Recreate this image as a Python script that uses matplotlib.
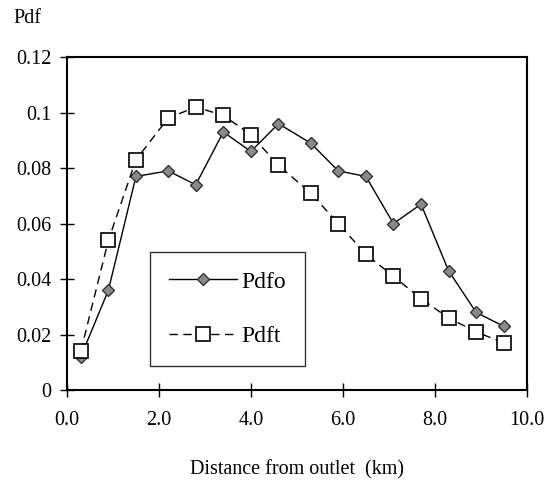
import numpy as np
import matplotlib
matplotlib.use("Agg")
import matplotlib.pyplot as plt

plt.rcParams['font.family'] = ['Liberation Serif', 'DejaVu Serif']

# distance from outlet (km)
dist = [0.3, 0.9, 1.5, 2.2, 2.8, 3.4, 4.0, 4.6, 5.3, 5.9, 6.5, 7.1, 7.7, 8.3, 8.9, 9.5]
pdfo = [0.012, 0.036, 0.077, 0.079, 0.074, 0.093, 0.086, 0.096, 0.089, 0.079, 0.077,
        0.060, 0.067, 0.043, 0.028, 0.023]
pdft = [0.014, 0.054, 0.083, 0.098, 0.102, 0.099, 0.092, 0.081, 0.071, 0.060, 0.049,
        0.041, 0.033, 0.026, 0.021, 0.017]

xticks = [0, 2, 4, 6, 8, 10]
xticklabels = ['0.0', '2.0', '4.0', '6.0', '8.0', '10.0']
yticks = [0, 0.02, 0.04, 0.06, 0.08, 0.1, 0.12]
yticklabels = ['0', '0.02', '0.04', '0.06', '0.08', '0.1', '0.12']

fig = plt.figure(figsize=(5.51, 4.92), dpi=100)
ax = fig.add_axes([0.1216, 0.207, 0.8344, 0.677])

ax.plot(dist, pdfo, '-', color='black', lw=1.0, marker='D', ms=6,
        mfc='#8a8a8a', mec='#333333', mew=1.0, label='Pdfo')
ax.plot(dist, pdft, '--', color='black', lw=1.0, dashes=(6, 4), marker='s', ms=10,
        mfc='white', mec='black', mew=1.2, label='Pdft')

ax.set_xlim(0, 10)
ax.set_ylim(0, 0.12)
ax.set_xticks(xticks)
ax.set_xticklabels(xticklabels)
ax.set_yticks(yticks)
ax.set_yticklabels(yticklabels)
ax.tick_params(direction='inout', length=10, width=1, labelsize=14.5, pad=10)
ax.tick_params(axis='y', pad=6)
for s in ax.spines.values():
    s.set_linewidth(1.5)

ax.set_xlabel('Distance from outlet  (km)', fontsize=14.5, labelpad=22)
fig.text(0.05, 0.962, 'Pdf', fontsize=14.5, ha='center', va='center')

leg = ax.legend(loc='upper left', bbox_to_anchor=(0.18, 0.414), fontsize=17,
                frameon=True, fancybox=False, edgecolor='black', handlelength=2.9,
                labelspacing=1.4, borderpad=0.8, handletextpad=0.2,
                borderaxespad=0)
leg.get_frame().set_linewidth(1.0)

fig.savefig('out.png', dpi=100)
